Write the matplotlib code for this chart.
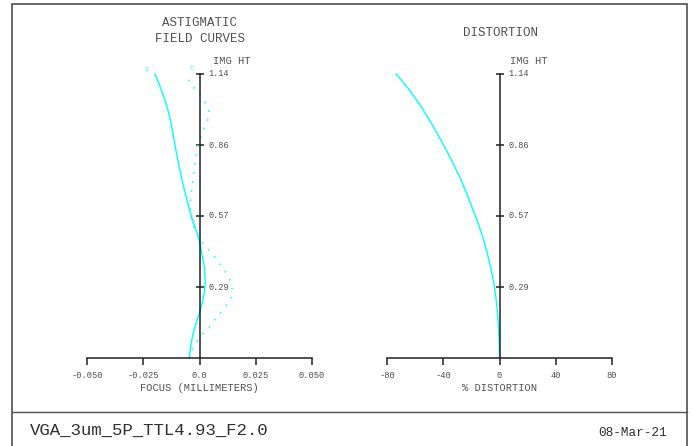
import matplotlib
matplotlib.use('Agg')
import matplotlib.pyplot as plt
from matplotlib.patches import Rectangle
from matplotlib.lines import Line2D

plt.rcParams['font.family'] = ['Liberation Mono', 'DejaVu Sans Mono']

# image height (normalised field) and tick labels
img_ht_ticks = [0.285, 0.57, 0.855, 1.14]
img_ht_labels = ['0.29', '0.57', '0.86', '1.14']

focus_ticks = [-0.050, -0.025, 0.0, 0.025, 0.050]
focus_labels = ['-0.050', '-0.025', '0.0', '0.025', '0.050']
dist_ticks = [-80, -40, 0, 40, 80]
dist_labels = ['-80', '-40', '0', '40', '80']

# sagittal field curve (mm) vs image height
sag_ht = [0.0, 0.02, 0.06, 0.10, 0.14, 0.18, 0.22, 0.26, 0.30, 0.34, 0.38, 0.42, 0.46,
          0.50, 0.54, 0.58, 0.62, 0.66, 0.70, 0.74, 0.78, 0.82, 0.86, 0.90, 0.94, 0.98,
          1.02, 1.06, 1.10, 1.14]
sag_focus = [-0.0044, -0.0043, -0.0037, -0.0028, -0.0015, -0.0001, 0.0012, 0.0021,
             0.0025, 0.0024, 0.0019, 0.0010, 0.0002, -0.0010, -0.0026, -0.0040, -0.0052,
             -0.0063, -0.0074, -0.0084, -0.0093, -0.0102, -0.0110, -0.0118, -0.0126,
             -0.0136, -0.0148, -0.0163, -0.0180, -0.0198]

# tangential field curve (mm) vs image height
tan_ht = [0.0, 0.04, 0.07, 0.10, 0.12, 0.15, 0.18, 0.21, 0.24, 0.27, 0.30, 0.33, 0.36,
          0.39, 0.42, 0.45, 0.48, 0.51, 0.54, 0.57, 0.60, 0.64, 0.68, 0.72, 0.76, 0.80,
          0.83, 0.86, 0.88, 0.90, 0.92, 0.94, 0.96, 0.98, 1.00, 1.02, 1.04, 1.06, 1.08,
          1.10, 1.12, 1.14]
tan_focus = [-0.0044, -0.0030, -0.0010, 0.0017, 0.0040, 0.0066, 0.0091, 0.0118, 0.0140,
             0.0146, 0.0142, 0.0127, 0.0105, 0.0080, 0.0055, 0.0026, -0.0002, -0.0018,
             -0.0032, -0.0040, -0.0042, -0.0040, -0.0034, -0.0028, -0.0023, -0.0018,
             -0.0013, -0.0004, 0.0003, 0.0011, 0.0020, 0.0030, 0.0038, 0.0042, 0.0039,
             0.0029, 0.0014, -0.0001, -0.0019, -0.0040, -0.0049, -0.0054]

# distortion (%) vs image height
dist_ht = [0.0, 0.06, 0.12, 0.18, 0.24, 0.30, 0.36, 0.42, 0.48, 0.54, 0.60, 0.66, 0.72,
           0.78, 0.84, 0.90, 0.96, 1.02, 1.08, 1.14]
dist_pct = [0.0, -0.2, -0.65, -1.4, -2.5, -4.0, -6.1, -8.7, -11.6, -15.1, -19.2, -23.3,
            -27.8, -32.9, -38.3, -44.2, -50.3, -57.0, -64.6, -73.5]

W, H = 693, 446
CYAN = '#00ffff'
TXT = '#505050'


def fx(x):
    return x / W


def fy(y):
    return 1 - y / H


fig = plt.figure(figsize=(W / 100, H / 100), dpi=100)

# frame around the plot and the title block
fig.patches.append(Rectangle((fx(12), fy(470)), fx(675), (470 - 3.5) / H,
                             transform=fig.transFigure, fill=False,
                             edgecolor='#505050', linewidth=1.2))
fig.lines.append(Line2D([fx(12), fx(687)], [fy(411.5), fy(411.5)],
                        transform=fig.transFigure, color='#505050', linewidth=1.0))


def setup_axis(ax, xlim, xticks, xlabels, img_offset):
    ax.set_xlim(*xlim)
    ax.set_ylim(0, 1.14)
    ax.patch.set_visible(False)
    for s in ['top', 'right']:
        ax.spines[s].set_visible(False)
    ax.spines['left'].set_position(('data', 0))
    ax.spines['left'].set_color('#202020')
    ax.spines['bottom'].set_color('#202020')
    ax.spines['left'].set_linewidth(1.1)
    ax.spines['bottom'].set_linewidth(1.1)
    ax.set_xticks(xticks)
    ax.set_xticklabels(xlabels)
    ax.tick_params(axis='x', direction='out', length=5, width=1.1, pad=4,
                   labelsize=6.3, labelcolor=TXT, color='#202020')
    ax.set_yticks(img_ht_ticks)
    ax.tick_params(axis='y', direction='inout', length=6, width=1.1,
                   labelleft=False, color='#202020')
    for h, lab in zip(img_ht_ticks, img_ht_labels):
        ax.annotate(lab, (0, h), xytext=(6.5, 0), textcoords='offset points',
                    va='center', ha='left', fontsize=6.2, color=TXT)
    ax.annotate('IMG HT', (0, 1.14), xytext=(img_offset, 9), textcoords='offset points',
                va='center', ha='left', fontsize=7.5, color=TXT)


ax1 = fig.add_axes([fx(87), fy(358), fx(225), 284 / H])
setup_axis(ax1, (-0.05, 0.05), focus_ticks, focus_labels, 10)
ax1.plot(sag_focus, sag_ht, color=CYAN, linewidth=1.0, clip_on=False)
ax1.plot(tan_focus, tan_ht, color=CYAN, linewidth=1.1, linestyle=(0, (1, 5)), clip_on=False)
ax1.annotate('S', (sag_focus[-1], sag_ht[-1]), xytext=(-6, 3), textcoords='offset points',
             fontsize=4.5, color=CYAN, ha='center', va='center')
ax1.annotate('T', (tan_focus[-1], tan_ht[-1]), xytext=(3, 4), textcoords='offset points',
             fontsize=4.5, color=CYAN, ha='center', va='center')

ax2 = fig.add_axes([fx(387), fy(358), fx(225), 284 / H])
setup_axis(ax2, (-80, 80), dist_ticks, dist_labels, 7.5)
ax2.plot(dist_pct, dist_ht, color=CYAN, linewidth=1.0, clip_on=False)

# titles and axis labels
fig.text(fx(200), fy(23), 'ASTIGMATIC', ha='center', va='center', fontsize=9, color=TXT)
fig.text(fx(200), fy(39), 'FIELD CURVES', ha='center', va='center', fontsize=9, color=TXT)
fig.text(fx(500), fy(33), 'DISTORTION', ha='center', va='center', fontsize=9, color=TXT)
fig.text(fx(199), fy(388), 'FOCUS (MILLIMETERS)', ha='center', va='center', fontsize=7.5, color=TXT)
fig.text(fx(500), fy(388), '% DISTORTION', ha='center', va='center', fontsize=7.5, color=TXT)

fig.text(fx(30), fy(430.5), 'VGA_3um_5P_TTL4.93_F2.0', ha='left', va='center',
         fontsize=12.5, color='#303030')
fig.text(fx(667), fy(433), '08-Mar-21', ha='right', va='center', fontsize=9.2, color='#303030')

fig.savefig('out.png', dpi=100)
